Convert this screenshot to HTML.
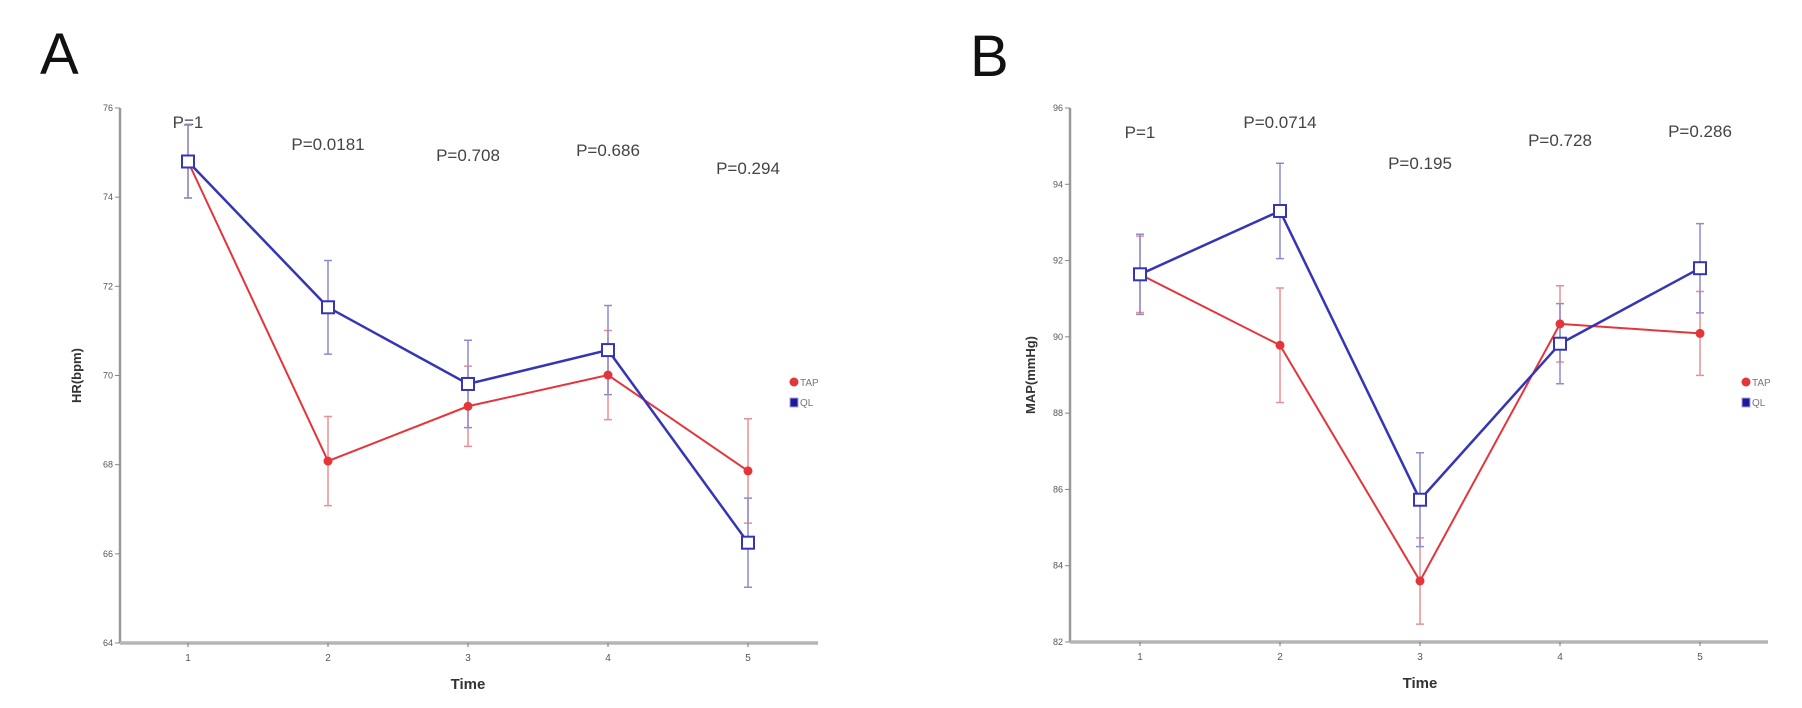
<!DOCTYPE html>
<html><head><meta charset="utf-8">
<style>
html,body{margin:0;padding:0;background:#fff;}
svg{display:block;font-family:"Liberation Sans",Arial,sans-serif;}
</style></head>
<body>
<svg id="fig" width="1802" height="708" viewBox="0 0 1802 708">
<text x="40" y="74" font-size="58" fill="#111">A</text>
<text x="970" y="76" font-size="58" fill="#111">B</text>
<g id="chartA"></g>
<g id="chartB"></g>
</svg>
<script>
const timeCats = [1, 2, 3, 4, 5];
const hrTicks = [64, 66, 68, 70, 72, 74, 76];
const hrTap = [74.8, 68.08, 69.31, 70.01, 67.86];
const hrTapErr = [0.82, 1.0, 0.9, 1.0, 1.17];
const hrQl = [74.8, 71.53, 69.81, 70.57, 66.25];
const hrQlErr = [0.82, 1.05, 0.98, 1.0, 1.0];
const hrP = ["P=1", "P=0.0181", "P=0.708", "P=0.686", "P=0.294"];
const mapTicks = [82, 84, 86, 88, 90, 92, 94, 96];
const mapTap = [91.64, 89.78, 83.6, 90.34, 90.09];
const mapTapErr = [1.0, 1.5, 1.13, 1.0, 1.1];
const mapQl = [91.64, 93.3, 85.73, 89.82, 91.8];
const mapQlErr = [1.05, 1.25, 1.23, 1.05, 1.17];
const mapP = ["P=1", "P=0.0714", "P=0.195", "P=0.728", "P=0.286"];

const NS = "http://www.w3.org/2000/svg";
function mk(parent, tag, attrs, text){
  const e = document.createElementNS(NS, tag);
  for (const k in attrs) e.setAttribute(k, attrs[k]);
  if (text !== undefined) e.textContent = text;
  parent.appendChild(e);
  return e;
}

function drawChart(g, cfg){
  const ymin = cfg.ticks[0], ymax = cfg.ticks[cfg.ticks.length-1];
  const X = c => cfg.x1 + (c - 1) * cfg.dx;
  const Y = v => cfg.yb - (v - ymin) / (ymax - ymin) * (cfg.yb - cfg.yt);
  const ya = mk(g, "line", {x1:cfg.ax, y1:cfg.yt, x2:cfg.ax, y2:cfg.yb, stroke:"#9a9a9a", "stroke-width":2.5});
  
  
  const xa = mk(g, "line", {x1:cfg.ax, y1:cfg.yb, x2:cfg.xe, y2:cfg.yb, stroke:"#b5b5b5", "stroke-width":3.5});
  
  
  cfg.ticks.forEach(t => {
    const y = Y(t);
    const tl = mk(g, "line", {x1:cfg.ax-5, y1:y, x2:cfg.ax, y2:y, stroke:"#888", "stroke-width":1});
    
    
    const tx = mk(g, "text", {x:cfg.ax-7, y:y+3, "font-size":9, "text-anchor":"end", fill:"#555"}, String(t));
    
    
  });
  timeCats.forEach(c => {
    const x = X(c);
    const tl = mk(g, "line", {x1:x, y1:cfg.yb, x2:x, y2:cfg.yb+4, stroke:"#777", "stroke-width":1});
    
    
    const tx = mk(g, "text", {x:x, y:cfg.yb+18, "font-size":10, "text-anchor":"middle", fill:"#555"}, String(c));
    
    
  });
  const xt = mk(g, "text", {x:X(3), y:cfg.yb+46, "font-size":15, "font-weight":"bold", "text-anchor":"middle", fill:"#333"}, "Time");
  
  
  const ym = (cfg.yt+cfg.yb)/2;
  const yt = mk(g, "text", {x:cfg.ytx, y:ym, "font-size":13, "font-weight":"bold", "text-anchor":"middle", fill:"#333", transform:`rotate(-90 ${cfg.ytx} ${ym})`}, cfg.ytitle);
  
  
  cfg.p.forEach((p, i) => {
    const t = mk(g, "text", {x:X(timeCats[i]), y:cfg.py[i], "font-size":17, "text-anchor":"middle", fill:"#444"}, p);
    
    
  });
  const series = [
    {v:cfg.tap, e:cfg.tapErr, col:"#e3353a", ecol:"#ec8f92", w:2, name:"tap", sq:false},
    {v:cfg.ql, e:cfg.qlErr, col:"#3535b5", ecol:"#8c8cd0", w:2.5, name:"ql", sq:true}
  ];
  series.forEach(s => {
    s.v.forEach((v, i) => {
      const x = X(timeCats[i]);
      const eb = mk(g, "path", {d:`M${x},${Y(v+s.e[i])}V${Y(v-s.e[i])}M${x-4},${Y(v+s.e[i])}H${x+4}M${x-4},${Y(v-s.e[i])}H${x+4}`, stroke:s.ecol, "stroke-width":1.5, fill:"none"});
      
      
    });
  });
  series.forEach(s => {
    const d = s.v.map((v, i) => (i ? "L" : "M") + X(timeCats[i]) + "," + Y(v)).join("");
    const ln = mk(g, "path", {d:d, stroke:s.col, "stroke-width":s.w, fill:"none"});
    
    
  });
  series.forEach(s => {
    s.v.forEach((v, i) => {
      const x = X(timeCats[i]), y = Y(v);
      let m;
      if (s.sq) m = mk(g, "rect", {x:x-6, y:y-6, width:12, height:12, fill:"#fff", stroke:s.col, "stroke-width":2});
      else m = mk(g, "circle", {cx:x, cy:y, r:4.5, fill:s.col});
      
      
    });
  });
  const lg = mk(g, "g", {});
  
  
  const c1 = mk(lg, "circle", {cx:cfg.lx+4, cy:cfg.ly, r:4.5, fill:"#e3353a"});
  
  
  const t1 = mk(lg, "text", {x:cfg.lx+10, y:cfg.ly+4, "font-size":10, fill:"#777"}, "TAP");
  
  
  const r2 = mk(lg, "rect", {x:cfg.lx, y:cfg.ly+16, width:8, height:9, fill:"#1a1a9a", stroke:"#b0a0e0", "stroke-width":1});
  
  
  const t2 = mk(lg, "text", {x:cfg.lx+10, y:cfg.ly+24, "font-size":10, fill:"#777"}, "QL");
  
  
}

drawChart(document.getElementById("chartA"), {
  ax:120, xe:818, yt:108, yb:643, x1:188, dx:140,
  ticks:hrTicks, tap:hrTap, tapErr:hrTapErr, ql:hrQl, qlErr:hrQlErr,
  p:hrP, py:[128, 150, 161, 156, 174], ytitle:"HR(bpm)", ytx:81, lx:790, ly:382
});
drawChart(document.getElementById("chartB"), {
  ax:1070, xe:1768, yt:108, yb:642, x1:1140, dx:140,
  ticks:mapTicks, tap:mapTap, tapErr:mapTapErr, ql:mapQl, qlErr:mapQlErr,
  p:mapP, py:[138, 128, 169, 146, 137], ytitle:"MAP(mmHg)", ytx:1035, lx:1742, ly:382
});
</script>
</body></html>
